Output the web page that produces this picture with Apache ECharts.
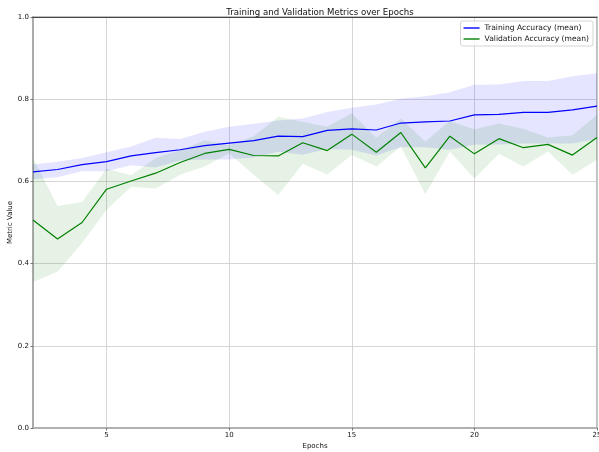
<!DOCTYPE html>
<html>
<head>
<meta charset="utf-8">
<script src="https://cdn.jsdelivr.net/npm/echarts@6/dist/echarts.min.js"></script>
<style>
  html, body { margin: 0; padding: 0; background: #fff; }
  #chart { width: 599px; height: 452px; }
</style>
</head>
<body>
<div id="chart"></div>
<script>
// Epoch numbers on the x axis
const epochs = [2, 3, 4, 5, 6, 7, 8, 9, 10, 11, 12, 13, 14, 15, 16, 17, 18, 19, 20, 21, 22, 23, 24, 25];

// Training accuracy: mean and standard deviation across runs
const trainMean = [0.623, 0.629, 0.641, 0.648, 0.662, 0.670, 0.677, 0.687, 0.693, 0.699, 0.710, 0.709,
                   0.724, 0.728, 0.725, 0.742, 0.745, 0.747, 0.762, 0.763, 0.768, 0.768, 0.774, 0.783];
const trainStd  = [0.018, 0.019, 0.016, 0.023, 0.023, 0.036, 0.026, 0.034, 0.040, 0.041, 0.038, 0.044,
                   0.045, 0.051, 0.062, 0.059, 0.062, 0.070, 0.073, 0.073, 0.076, 0.076, 0.082, 0.080];

// Validation accuracy: mean and standard deviation across runs
const valMean = [0.506, 0.460, 0.500, 0.581, 0.601, 0.620, 0.646, 0.668, 0.678, 0.663, 0.662, 0.694,
                 0.675, 0.715, 0.671, 0.719, 0.633, 0.710, 0.667, 0.704, 0.682, 0.690, 0.664, 0.707];
const valStd  = [0.151, 0.080, 0.050, 0.050, 0.014, 0.037, 0.030, 0.032, 0.010, 0.047, 0.095, 0.051,
                 0.058, 0.051, 0.035, 0.034, 0.064, 0.037, 0.060, 0.037, 0.046, 0.017, 0.048, 0.055];

const yTicks = [0.0, 0.2, 0.4, 0.6, 0.8, 1.0];

const FONT = 'DejaVu Sans';
const showEvery5 = (idx, val) => Number(val) % 5 === 0;

// Band = invisible lower line + stacked (upper - lower) with filled area
function band(name, mean, std, fill) {
  const lower = mean.map((m, i) => +(m - std[i]).toFixed(4));
  const width = std.map(s => +(2 * s).toFixed(4));
  return [
    {
      name: name + ' lower', type: 'line', stack: name, data: lower,
      symbol: 'none', lineStyle: { opacity: 0 }, silent: true, z: 1
    },
    {
      name: name + ' spread', type: 'line', stack: name, data: width,
      symbol: 'none', lineStyle: { opacity: 0 }, areaStyle: { color: fill, opacity: 1 },
      silent: true, z: 1
    }
  ];
}

const chart = echarts.init(document.getElementById('chart'), null, { renderer: 'canvas' });
chart.setOption({
  animation: false,
  backgroundColor: '#ffffff',
  textStyle: { fontFamily: FONT },
  title: {
    text: 'Training and Validation Metrics over Epochs',
    left: 315, top: 3, textAlign: 'center',
    textStyle: { fontFamily: FONT, fontSize: 8.6, fontWeight: 'normal', color: '#111' }
  },
  legend: {
    data: ['Training Accuracy (mean)', 'Validation Accuracy (mean)'],
    orient: 'vertical', right: 6, top: 21,
    icon: 'rect', itemWidth: 16, itemHeight: 1.4, itemGap: 3,
    padding: [3, 4, 3, 3],
    borderColor: '#d4d4d4', borderWidth: 1, borderRadius: 2,
    backgroundColor: 'rgba(255,255,255,0.8)',
    textStyle: { fontFamily: FONT, fontSize: 7.6, color: '#111', padding: [0, 0, 0, 0] }
  },
  grid: {
    left: 33, right: 2, top: 17, bottom: 24,
    outerBoundsMode: 'none', containLabel: false,
    show: true, borderColor: '#aaaaaa', borderWidth: 1.5, backgroundColor: 'transparent'
  },
  xAxis: [{
    type: 'category',
    data: epochs.map(String),
    boundaryGap: false,
    name: 'Epochs', nameLocation: 'middle', nameGap: 15, nameMoveOverlap: false,
    nameTextStyle: { fontFamily: FONT, fontSize: 7, color: '#111' },
    axisLine: { show: true, lineStyle: { color: '#aaaaaa', width: 1.5 } },
    axisTick: { show: true, interval: showEvery5, length: 2.5, lineStyle: { color: '#555', width: 0.8 } },
    axisLabel: { interval: showEvery5, fontFamily: FONT, fontSize: 7, color: '#111', margin: 4 },
    splitLine: { show: true, interval: showEvery5, lineStyle: { color: '#cccccc', width: 0.8 } }
  }, {
    // thin dark top frame line
    type: 'category', position: 'top', data: epochs.map(String), boundaryGap: false,
    axisLine: { show: true, lineStyle: { color: '#444', width: 1 } },
    axisTick: { show: false }, axisLabel: { show: false }, splitLine: { show: false }
  }],
  yAxis: {
    type: 'value',
    min: yTicks[0], max: yTicks[yTicks.length - 1], interval: 0.2,
    name: 'Metric Value', nameLocation: 'middle', nameGap: 19.5, nameMoveOverlap: false,
    nameTextStyle: { fontFamily: FONT, fontSize: 7, color: '#111' },
    axisLine: { show: true, lineStyle: { color: '#aaaaaa', width: 2 } },
    axisTick: { show: true, length: 2.5, lineStyle: { color: '#555', width: 0.8 } },
    axisLabel: { fontFamily: FONT, fontSize: 7, color: '#111', margin: 4,
                 formatter: v => v.toFixed(1) },
    splitLine: { show: true, lineStyle: { color: '#cccccc', width: 0.8 } }
  },
  series: [
    ...band('train', trainMean, trainStd, 'rgba(0,0,255,0.1)'),
    ...band('val', valMean, valStd, 'rgba(0,128,0,0.1)'),
    {
      name: 'Training Accuracy (mean)', type: 'line', data: trainMean,
      symbol: 'none', color: '#0000ff', lineStyle: { color: '#0000ff', width: 1.2 }, z: 3
    },
    {
      name: 'Validation Accuracy (mean)', type: 'line', data: valMean,
      symbol: 'none', color: '#008000', lineStyle: { color: '#008000', width: 1.2 }, z: 3
    }
  ]
});
</script>
</body>
</html>
